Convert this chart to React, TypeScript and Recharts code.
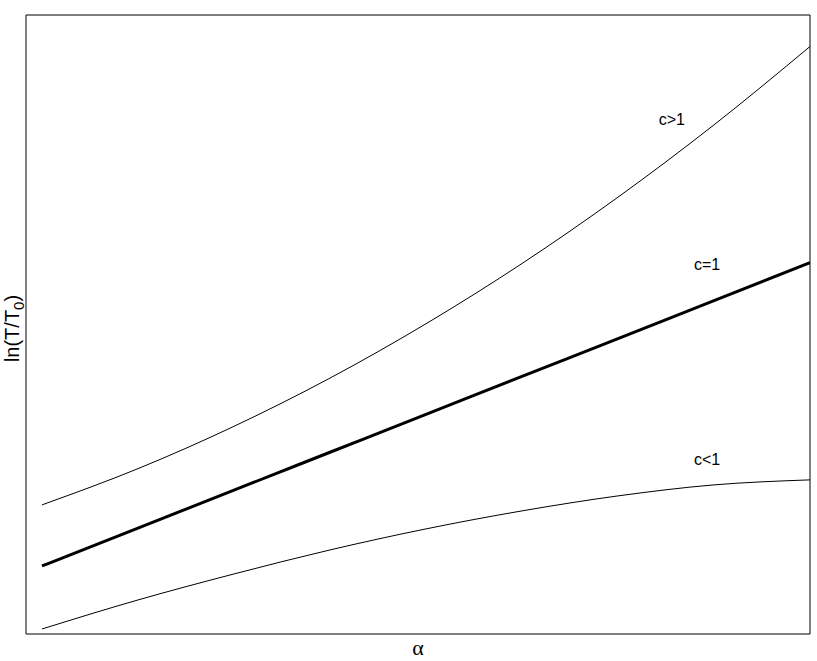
import React from 'react';
import { LineChart, Line, XAxis, YAxis, ReferenceArea, ReferenceDot } from 'recharts';

const alpha = [0, 0.125, 0.25, 0.375, 0.5, 0.625, 0.75, 0.875, 1];
const cGreater = [2.086, 2.671, 3.355, 4.134, 5.012, 5.985, 7.057, 8.225, 9.491];
const cEqual = [1.099, 1.711, 2.324, 2.936, 3.548, 4.161, 4.773, 5.386, 5.998];
const cLess = [0.081, 0.55, 0.97, 1.358, 1.698, 1.989, 2.231, 2.409, 2.49];

const curveLabels = ['c>1', 'c=1', 'c<1'];
const curveLabelX = [0.82, 0.866, 0.866];
const curveLabelY = [8.31, 5.98, 2.83];

const xDomain = [-0.0208, 1];
const yDomain = [0, 10];

const data = alpha.map((a, i) => ({ a, g: cGreater[i], e: cEqual[i], l: cLess[i] }));

const YLabel = (props: any) => {
  const vb = props.viewBox || { x: 0, y: 0, width: 26, height: 600 };
  const cx = vb.x + 12;
  const cy = vb.y + vb.height / 2 + 4;
  return (
    <text
      x={cx}
      y={cy}
      transform={`rotate(-90 ${cx} ${cy})`}
      textAnchor="middle"
      dominantBaseline="central"
      fontFamily="Liberation Sans, Arial, sans-serif"
      fontSize={20}
      fill="#000"
    >
      ln(T/T
      <tspan fontSize={15} dy={6}>0</tspan>
      <tspan dy={-6}>)</tspan>
    </text>
  );
};

export default function App() {
  return (
    <div style={{ position: 'absolute', left: 0, top: 0, background: '#fff' }}>
      <LineChart width={817} height={661} data={data} margin={{ top: 15, right: 7, bottom: 0, left: 0 }}>
        <XAxis
          dataKey="a"
          type="number"
          domain={xDomain}
          allowDataOverflow
          tick={false}
          tickLine={false}
          axisLine={false}
          height={27}
          label={{ value: 'α', position: 'insideBottom', offset: 6, fontSize: 22, fill: '#000', fontFamily: 'Liberation Serif, DejaVu Serif, serif' }}
        />
        <YAxis
          type="number"
          domain={yDomain}
          allowDataOverflow
          tick={false}
          tickLine={false}
          axisLine={false}
          width={26}
          label={<YLabel />}
        />
        <ReferenceArea x1={xDomain[0]} x2={xDomain[1]} y1={yDomain[0]} y2={yDomain[1]} fill="none" stroke="#000" strokeWidth={1} ifOverflow="visible" />
        <Line dataKey="g" type="monotone" stroke="#000" strokeWidth={1} dot={false} isAnimationActive={false} />
        <Line dataKey="e" type="monotone" stroke="#000" strokeWidth={3} dot={false} isAnimationActive={false} />
        <Line dataKey="l" type="monotone" stroke="#000" strokeWidth={1} dot={false} isAnimationActive={false} />
        {curveLabels.map((t, i) => (
          <ReferenceDot
            key={t}
            x={curveLabelX[i]}
            y={curveLabelY[i]}
            r={0}
            fill="none"
            stroke="none"
            ifOverflow="visible"
            label={{ value: t, position: 'center', fontSize: 16, fill: '#000', fontFamily: 'Liberation Sans, Arial, sans-serif' }}
          />
        ))}
      </LineChart>
    </div>
  );
}
